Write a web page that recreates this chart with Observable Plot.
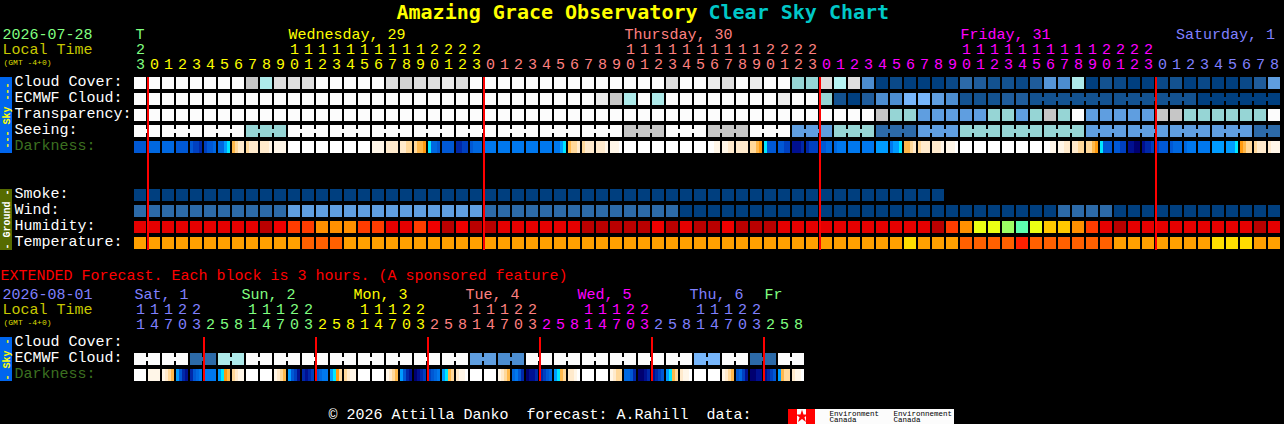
<!DOCTYPE html>
<html>
<head>
<meta charset="utf-8">
<script src="https://cdn.jsdelivr.net/npm/d3@7"></script>
<script src="https://cdn.jsdelivr.net/npm/@observablehq/plot@0.6"></script>
<style>
html,body{margin:0;padding:0;background:#000;overflow:hidden}
svg{display:block}
</style>
</head>
<body>
<script>
// ---------- values (sky levels are 0-100 steps) ----------
const cloudCover = [100,100,100,100,100,100,100,100,80,70,90,90,90,100,100,100,100,100,90,85,90,90,97,90,
  100,100,100,100,100,100,100,100,100,100,100,100,100,100,90,100,100,97,90,100,97,100,100,60,60,90,75,90,
  30,0,5,0,0,0,5,20,15,10,10,5,15,35,30,70,0,10,5,0,0,5,10,0,5,0,0,5,15,40];
const ecmwfCloud = [100,100,100,100,100,100,100,100,100,100,100,100,100,100,100,100,100,100,100,100,100,100,100,100,
  100,100,100,100,100,100,100,100,100,97,80,70,100,70,100,100,100,100,100,100,100,100,97,100,100,60,10,0,
  15,30,30,50,50,40,30,10,10,10,15,15,10,10,10,10,10,10,10,10,10,10,10,10,0,0,0,0,0,0];
const transparency = [100,100,100,100,100,100,100,100,100,100,100,100,100,100,100,100,100,100,100,100,100,100,100,100,
  100,100,100,100,100,100,100,100,100,100,100,100,100,100,100,100,100,100,100,100,100,100,100,100,100,100,100,100,100,
  80,60,60,40,40,40,40,40,60,60,40,60,80,60,100,40,40,40,40,40,80,80,60,60,60,60,60,60,100];
const seeingBlocks = [100,100,100,60,100,100,100,100,100,100,100,100,80,100,80,100,40,60,20,40,60,60,60,40,40,40,40,20];
const smoke = [0,0,0,0,0,0,0,0,0,0,0,0,0,0,0,0,0,0,0,0,0,0,0,0,0,0,0,0,0,0,0,0,0,0,0,0,0,0,0,0,0,0,0,0,0,0,0,0,0,0,0,0,0,0,0,0,0,0];
const wind = [20,20,20,20,20,20,20,20,20,20,20,40,40,40,40,40,40,40,40,40,40,40,40,40,40,
  20,20,20,20,20,20,20,20,20,20,20,20,20,20,0,0,0,0,0,0,0,0,0,0,0,0,0,0,0,0,0,0,0,0,0,0,0,0,0,0,0,
  20,20,20,20,0,0,0,0,0,0,0,0,0,0,0,0];
const humidity = [95,95,95,95,95,95,95,95,95,100,90,85,85,80,80,80,85,85,95,95,85,90,100,90,100,100,
  95,95,95,95,95,95,100,100,100,100,100,90,100,95,100,100,90,100,100,100,95,95,95,95,95,95,
  95,95,95,95,95,100,85,80,70,70,65,60,70,75,75,80,85,95,100,95,95,95,95,95,95,95,95,95,100,95];
const temperature = [50,50,50,50,50,50,50,50,50,50,50,50,60,60,60,50,50,50,50,50,50,50,50,50,50,50,50,
  50,50,50,50,50,50,50,50,50,50,50,50,50,50,50,50,50,50,50,50,50,50,50,50,50,50,50,50,
  40,50,50,50,60,60,60,60,70,60,60,60,60,60,60,50,50,50,50,50,50,50,40,40,40,50,50];
const darkness = ["kkkk","jjjj","jjjj","kkkk","kllm","lkkj","jjhg","edcc","dccc","cccb","bbbb",
  "aaaa","aaaa","aaaa","aaaa","aaaa","aaaa","bbbb","cccc","ccdd","deef","gjjk","kkkk","mmll","kjjj",
  "iiii","iiii","iiii","iiii","iiii","iihg","eddc","dccc","cccb","bbba","aaaa","aaaa","aaaa","aaaa","aaaa","aaaa",
  "aabb","bbcc","cccc","ddef","gkkk","kkll","nnnm","mlll","kkjj","jiii","iiii","iiii","hhhh","ihhg",
  "eedc","dccc","cccb","bbba","aaaa","aaaa","aaaa","aaaa","aaaa","aaaa","aabb","bbcc","ccdd","ddef",
  "gkkk","kkll","nnoo","nmml","lkkk","kjjj","jiii","iiii","hhhh","hhhg","fedd","dccc","cbbb"];
const extEcmwf = [100,100,100,100,20,20,70,70,100,100,100,100,100,100,100,100,100,100,100,100,100,100,100,100,
  40,40,30,30,100,100,100,100,100,100,100,100,100,100,100,100,50,50,100,100,20,20,100,100];
const extDarkness = ["aaaa","bbbb","bcde","hkmn","mkji","iiii","hgfe","dcbb","aaaa","aaaa","bcde","hkln",
  "mnml","kjii","hgfd","dcbb","aaaa","aaaa","bcde","hkmn","onml","lkji","hged","cbba",
  "aaaa","aaaa","bcde","jikm","onnm","mlkj","hged","ccba","aaaa","aaaa","bcdd","jjkm",
  "oonm","nmlk","hged","cbba","aaaa","aaaa","bcde","kjln","oonn","nmlk","hedd","cbba"];

// ---------- tick labels ----------
const hourUnits = "3012345678901234567890123012345678901234567890123012345678901234567890123012345678".split("");
const hourTens  = "2          11111111112222          11111111112222          11111111112222         ".split("");
const extUnits  = "147032581470325814703258147032581470325814703258".split("");
const extTens   = "11122   11122   11122   11122   11122   11122    ".split("");
const dayLabels = [["T",0.07,"#80ff80"],["Wednesday, 29",11,"#ffff00"],["Thursday, 30",35,"#ff8080"],
  ["Friday, 31",59,"#ff00ff"],["Saturday, 1",74.4,"#8080ff"]];
const extDayLabels = [["Sat, 1",0,"#8080ff"],["Sun, 2",7.64,"#80ff80"],["Mon, 3",15.64,"#ffff00"],
  ["Tue, 4",23.64,"#ff8080"],["Wed, 5",31.64,"#ff00ff"],["Thu, 6",39.64,"#8080ff"],["Fr",45,"#80ff80"]];
const rowLabels = [["Cloud Cover:",0,"#fff"],["ECMWF Cloud:",1,"#fff"],["Transparency:",2,"#fff"],["Seeing:",3,"#fff"],
  ["Darkness:",4,"#3c7020"],["Smoke:",7,"#fff"],["Wind:",8,"#fff"],["Humidity:",9,"#fff"],["Temperature:",10,"#fff"],
  ["Cloud Cover:",16.25,"#fff"],["ECMWF Cloud:",17.25,"#fff"],["Darkness:",18.25,"#3c7020"]];
const midnights = [1,25,49,73];
const extMidnights = [5,13,21,29,37,45];

// ---------- palettes ----------
const skyLevels = [0,5,10,15,20,30,35,40,50,60,70,75,80,85,90,97,100];
const skyColors = ["#003f7f","#0a4988","#135290","#1f5c9b","#2c6aa8","#4c8dd0","#5595d8","#5f9ee0","#77b6fb","#96d5d5","#aeeaea","#b6f5f5","#c6c6c6","#d2d2d2","#dedede","#ebebeb","#fcfcfc"];
const humLevels = [100,95,90,85,80,75,70,65,60];
const humColors = ["#b90000","#e60000","#f00000","#ff3c00","#ff9000","#ffc800","#ebff14","#9cff64","#5dffb0"];
const tmpLevels = [40,50,60,70];
const tmpColors = ["#ffdd00","#ffa000","#ff6000","#ff2000"];
const darkLevels = "abcdefghijklmno".split("");
const darkColors = ["#ffffff","#fff6e8","#ffeacc","#ffd89a","#ffb84a","#ff9a10","#00e8ff","#009cff","#0078ee","#0068e0","#0058d4","#0040c0","#0028a8","#001090","#000070"];
const dayColor = i => i < 1 ? "#80ff80" : i < 25 ? "#ffff00" : i < 49 ? "#ff8080" : i < 73 ? "#ff00ff" : "#8080ff";
const extDayColor = i => i < 5 ? "#8080ff" : i < 13 ? "#80ff80" : i < 21 ? "#ffff00" : i < 29 ? "#ff8080" : i < 37 ? "#ff00ff" : i < 45 ? "#8080ff" : "#80ff80";

// ---------- layout: one x unit is a block, one y unit a row ----------
const W = 1284, H = 424, BW = 14, RH = 16, X0 = 134, Y0 = 77;
const cellW = 12 / BW, cellH = 12 / RH;
const X = p => (p - X0) / BW, Y = p => (p - Y0) / RH;
const rowMid = r => r + cellH / 2;
const FONT = "'Liberation Mono', monospace";
const TITLE = "'DejaVu Sans Mono', monospace";

const seeing = [], seeingGroup = [];
seeingBlocks.forEach((v, g) => {
  const start = g === 0 ? 0 : 2 + 3 * (g - 1), n = g === 0 ? 2 : (start === 80 ? 2 : 3);
  for (let k = 0; k < n; k++) { seeing.push(v); seeingGroup.push(g); }
});
const ecmwfGroup = ecmwfCloud.map((v, i) => i >= 64 ? Math.floor((i - 64) / 6) : 1000 + i);
const extGroup = extEcmwf.map((v, i) => Math.floor(i / 2));

const cells = [], links = [];
function addRow(values, row, pre, group) {
  values.forEach((v, i) => {
    const d = {x: i, row, key: pre + v};
    cells.push(d);
    if (group && i + 1 < values.length && group[i] === group[i + 1]) links.push(d);
  });
}
addRow(cloudCover, 0, "s");
addRow(ecmwfCloud, 1, "s", ecmwfGroup);
addRow(transparency, 2, "s");
addRow(seeing, 3, "s", seeingGroup);
addRow(smoke, 7, "s");
addRow(wind, 8, "s");
addRow(humidity, 9, "h");
addRow(temperature, 10, "t");
addRow(extEcmwf, 17.25, "s", extGroup);

const slices = [];
function addDark(values, row) {
  values.forEach((code, i) => code.split("").forEach((c, k) => slices.push({x: i + k * 3 / BW, row, key: "d" + c})));
}
addDark(darkness, 4);
addDark(extDarkness, 18.25);

const colorDomain = [...skyLevels.map(v => "s" + v), ...humLevels.map(v => "h" + v), ...tmpLevels.map(v => "t" + v), ...darkLevels.map(v => "d" + v)];
const colorRange = [...skyColors, ...humColors, ...tmpColors, ...darkColors];

const txt = (data, o) => Plot.text(data, {fontFamily: FONT, fontSize: 15, textAnchor: "start", ...o});
const digits = (arr, colorOf, yPx) => txt(arr.map((t, i) => ({t, i})).filter(d => d.t !== " "),
  {text: "t", x: d => d.i + cellW / 2, y: () => Y(yPx), fill: d => colorOf(d.i), textAnchor: "middle"});

const plot = Plot.plot({
  width: W, height: H, margin: 0,
  style: {background: "#000", fontFamily: FONT},
  x: {domain: [X(0), X(W)], range: [0, W], axis: null},
  y: {domain: [Y(0), Y(H)], range: [0, H], axis: null},
  color: {type: "ordinal", domain: colorDomain, range: colorRange},
  marks: [
    // side tabs
    Plot.rect([{y1: 77, y2: 153, c: "#0066ee"}, {y1: 189, y2: 250, c: "#566b00"}, {y1: 337, y2: 381, c: "#0066ee"}],
      {x1: X(0), x2: X(12), y1: d => Y(d.y1), y2: d => Y(d.y2), fill: "c", shapeRendering: "crispEdges"}),
    txt([{t: "--- Sky ---", y: 115, c: "#ffff00"}, {t: "- Ground -", y: 219, c: "#fff"}, {t: "- Sky -", y: 359, c: "#ffff00"}],
      {text: "t", x: X(6), y: d => Y(d.y), fill: "c", rotate: -90, fontSize: 10, fontWeight: "bold", textAnchor: "middle"}),
    // forecast blocks
    Plot.rect(cells, {x1: "x", x2: d => d.x + cellW, y1: "row", y2: d => d.row + cellH, fill: "key", shapeRendering: "crispEdges"}),
    Plot.rect(links, {x1: d => d.x + cellW, x2: d => d.x + 1, y1: d => d.row + 4 / RH, y2: d => d.row + 8 / RH, fill: "key", shapeRendering: "crispEdges"}),
    Plot.rect(slices, {x1: "x", x2: d => d.x + 3 / BW, y1: "row", y2: d => d.row + cellH, fill: "key", shapeRendering: "crispEdges"}),
    // midnight rules
    Plot.rect(midnights, {x1: d => d - 1 / BW, x2: d => d + 1 / BW, y1: Y(77), y2: Y(250), fill: "#ff0000", shapeRendering: "crispEdges"}),
    Plot.rect(extMidnights, {x1: d => d - 1 / BW, x2: d => d + 1 / BW, y1: Y(337), y2: Y(381), fill: "#ff0000", shapeRendering: "crispEdges"}),
    // title
    Plot.text(["Amazing Grace Observatory"], {x: X(396), y: Y(12), text: d => d, fill: "#ffff00", fontFamily: TITLE, fontSize: 20, fontWeight: "bold", textAnchor: "start"}),
    Plot.text(["Clear Sky Chart"], {x: X(708), y: Y(12), text: d => d, fill: "#00c8c8", fontFamily: TITLE, fontSize: 20, fontWeight: "bold", textAnchor: "start"}),
    // headers
    txt([{t: "2026-07-28", y: 34, c: "#80ff80"}, {t: "Local Time", y: 49, c: "#c8c800"}, {t: "2026-08-01", y: 294, c: "#8080ff"}, {t: "Local Time", y: 309, c: "#c8c800"}],
      {text: "t", x: X(2), y: d => Y(d.y), fill: "c"}),
    txt([{t: "(GMT -4+0)", y: 62}, {t: "(GMT -4+0)", y: 322}], {text: "t", x: X(3), y: d => Y(d.y), fill: "#dcdc00", fontSize: 8}),
    txt(dayLabels, {text: d => d[0], x: d => d[1], y: Y(34), fill: d => d[2]}),
    digits(hourTens, dayColor, 49),
    digits(hourUnits, dayColor, 64),
    txt(extDayLabels, {text: d => d[0], x: d => d[1], y: Y(294), fill: d => d[2]}),
    digits(extTens, extDayColor, 309),
    digits(extUnits, extDayColor, 324),
    txt(rowLabels, {text: d => d[0], x: X(14), y: d => rowMid(d[1]) - 2 / RH, fill: d => d[2]}),
    txt(["EXTENDED Forecast. Each block is 3 hours. (A sponsored feature)"], {text: d => d, x: X(0), y: Y(275), fill: "#ff0000"}),
    // footer and logo
    txt(["\u00a9 2026 Attilla Danko  forecast: A.Rahill  data:"], {text: d => d, x: X(328), y: Y(414), fill: "#fff"}),
    Plot.rect([{a: 788, b: 954, c: "#fcfcfc"}, {a: 788, b: 797, c: "#ff0000"}, {a: 806, b: 815, c: "#ff0000"}],
      {x1: d => X(d.a), x2: d => X(d.b), y1: Y(409), y2: Y(424), fill: "c", shapeRendering: "crispEdges"}),
    Plot.dot([0], {x: X(801.5), y: Y(416), symbol: "star", r: 4, fill: "#ff0000", stroke: "none"}),
    Plot.text([["Environment", 829, 413], ["Canada", 829, 419.5], ["Environnement", 893, 413], ["Canada", 893, 419.5]],
      {text: d => d[0], x: d => X(d[1]), y: d => Y(d[2]), fill: "#000", fontFamily: FONT, fontSize: 7.5, textAnchor: "start"})
  ]
});
document.body.appendChild(plot);
</script>
</body>
</html>
